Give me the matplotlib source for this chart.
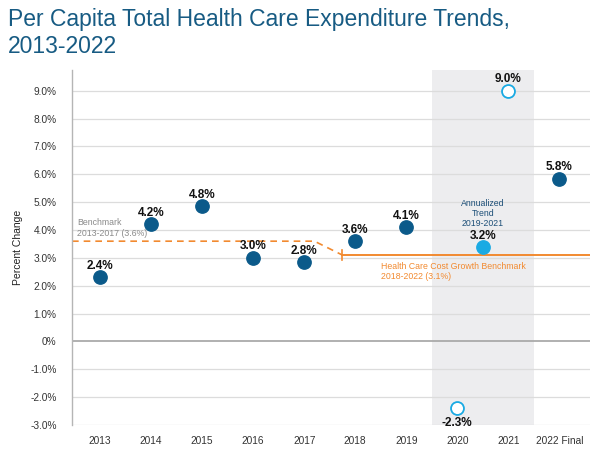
import matplotlib
matplotlib.use("Agg")
import matplotlib.pyplot as plt

plt.rcParams['font.family'] = ['Liberation Sans', 'DejaVu Sans']

categories = ["2013", "2014", "2015", "2016", "2017", "2018", "2019", "2020", "2021", "2022 Final"]
values = [2.3, 4.2, 4.85, 3.0, 2.85, 3.6, 4.1, -2.4, 9.0, 5.85]
value_labels = ["2.4%", "4.2%", "4.8%", "3.0%", "2.8%", "3.6%", "4.1%", "-2.3%", "9.0%", "5.8%"]
open_years = ["2020", "2021"]
annualized_value = 3.38
annualized_label = "3.2%"
benchmark_old = 3.6
benchmark_new = 3.1
yticks = [-3, -2, -1, 0, 1, 2, 3, 4, 5, 6, 7, 8, 9]
ytick_labels = ["-3.0%", "-2.0%", "-1.0%", "0%", "1.0%", "2.0%", "3.0%", "4.0%", "5.0%",
                "6.0%", "7.0%", "8.0%", "9.0%"]

DARK = "#0b5a8a"
LIGHT = "#1aaae3"
ORANGE = "#f28a30"
TITLE = "#175b83"

fig = plt.figure(figsize=(6.0, 4.66), dpi=100)
ax = fig.add_axes([0.12, 0.088, 0.8633, 0.762])

x = list(range(len(categories)))
ax.set_xlim(-0.55, 9.6)
ax.set_ylim(-3.0, 9.75)

# shaded pandemic region
ax.axvspan(6.5, 8.5, color="#ededef", zorder=0, lw=0)

# gridlines
for t in yticks:
    ax.axhline(t, color="#aaaaaa" if t == 0 else "#dcdcdc", lw=1.3 if t == 0 else 0.9, zorder=1)

# benchmark lines
ax.plot([-0.55, 4.2, 4.75], [benchmark_old, benchmark_old, benchmark_new], color=ORANGE,
        lw=1.2, ls=(0, (4, 3)), zorder=2)
ax.plot([4.75, 9.6], [benchmark_new, benchmark_new], color=ORANGE, lw=1.4, zorder=2)
ax.plot([4.75, 4.75], [benchmark_new - 0.18, benchmark_new + 0.18], color=ORANGE, lw=1.2, zorder=2)

for i, (c, v, lab) in enumerate(zip(categories, values, value_labels)):
    if c in open_years:
        ax.plot(i, v, 'o', ms=9.3, mfc="white", mec=LIGHT, mew=1.3, zorder=4)
    else:
        ax.plot(i, v, 'o', ms=9.6, color=DARK, zorder=4)
    if v < 0:
        ax.annotate(lab, (i, v), xytext=(0, -6), textcoords="offset points", ha="center",
                    va="top", fontsize=8.5, fontweight="bold", color="#111111")
    else:
        ax.annotate(lab, (i, v), xytext=(0, 4), textcoords="offset points", ha="center",
                    va="bottom", fontsize=8.5, fontweight="bold", color="#111111")

ax.plot(7.5, annualized_value, 'o', ms=9.6, color=LIGHT, zorder=4)
ax.annotate(annualized_label, (7.5, annualized_value), xytext=(0, 4), textcoords="offset points",
            ha="center", va="bottom", fontsize=8.5, fontweight="bold", color="#111111")
ax.text(7.5, 4.6, "Annualized\nTrend\n2019-2021", ha="center", va="center", fontsize=6.3,
        color="#1d4f78", linespacing=1.15)

ax.text(-0.45, 4.08, "Benchmark\n2013-2017 (3.6%)", ha="left", va="center", fontsize=6.3,
        color="#8a8a8a", linespacing=1.2)
ax.text(5.5, 2.52, "Health Care Cost Growth Benchmark\n2018-2022 (3.1%)", ha="left", va="center",
        fontsize=6.3, color=ORANGE, linespacing=1.2)

ax.set_xticks(x)
ax.set_xticklabels(categories, fontsize=7.3, color="#333333")
ax.set_yticks(yticks)
ax.set_yticklabels(ytick_labels, fontsize=7.3, color="#333333")
ax.tick_params(axis="x", length=0, pad=8)
ax.tick_params(axis="y", length=0, pad=11)
for s in ["top", "right", "bottom"]:
    ax.spines[s].set_visible(False)
ax.spines["left"].set_color("#b5b5b5")
ax.spines["left"].set_linewidth(1.0)
ax.set_ylabel("Percent Change", fontsize=7.5, color="#222222", labelpad=5)

fig.text(0.013, 0.982, "Per Capita Total Health Care Expenditure Trends,\n2013-2022", ha="left",
         va="top", fontsize=16.5, color=TITLE, linespacing=1.2)

fig.savefig("out.png", dpi=100)
